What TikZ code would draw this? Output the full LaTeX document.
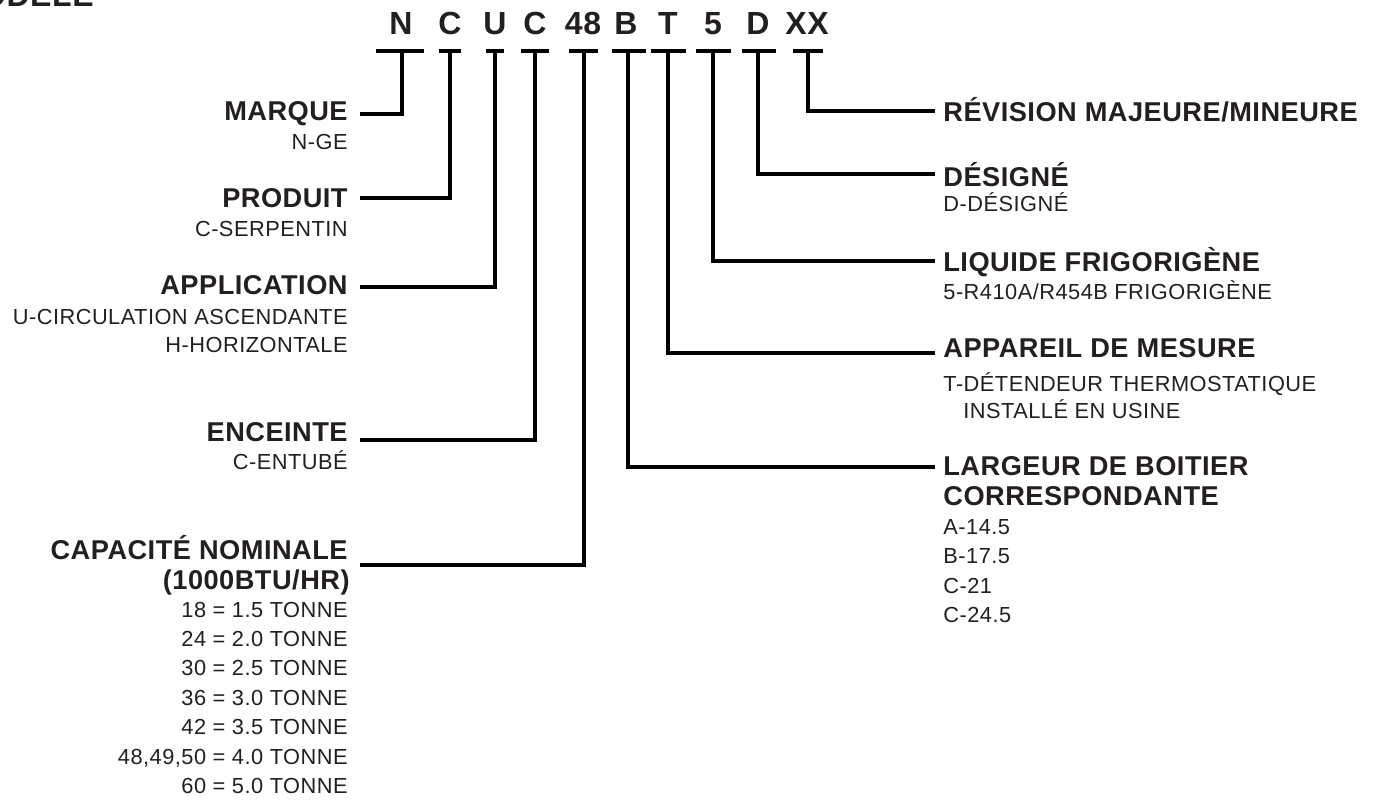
\documentclass[tikz,border=0pt]{standalone}
\usepackage{fontspec}
\setmainfont{Liberation Sans}[LetterSpace=1.8]
\newfontfamily\subfont{Liberation Sans}[LetterSpace=2.2]
\usetikzlibrary{positioning}
\definecolor{encre}{HTML}{231F20}

\tikzset{
  lien/.style={line width=1.6pt, black},
  code/.style={font=\fontsize{16}{18}\selectfont\bfseries, text=encre, anchor=base, inner sep=0},
  titreG/.style={font=\fontsize{13.6}{15}\selectfont\bfseries, text=encre, anchor=base east, inner sep=0},
  titreD/.style={font=\fontsize{13.6}{15}\selectfont\bfseries, text=encre, anchor=base west, inner sep=0},
  sousG/.style={font=\subfont\fontsize{10.9}{12}\selectfont, text=encre, anchor=base east, inner sep=0},
  sousD/.style={font=\subfont\fontsize{10.9}{12}\selectfont, text=encre, anchor=base west, inner sep=0}
}

\begin{document}
\begin{tikzpicture}[x=0.5pt,y=-0.5pt]
\useasboundingbox (0,0) rectangle (1382,801);

\node[code, anchor=base east] (modele) at (94,7) {MODÈLE};

% lettres du code
\node[code] (cN) at (401,35) {N};
\node[code] (cC) at (450,35) {C};
\node[code] (cU) at (495,35) {U};
\node[code] (cE) at (535,35) {C};
\node[code] (cCap) at (583,35) {48};
\node[code] (cB) at (626,35) {B};
\node[code] (cT) at (668,35) {T};
\node[code] (c5) at (713,35) {5};
\node[code] (cD) at (758,35) {D};
\node[code] (cX) at (807,35) {XX};

\coordinate (tN) at (402,51);
\coordinate (tC) at (450,51);
\coordinate (tU) at (495,51);
\coordinate (tE) at (535,51);
\coordinate (tCap) at (584,51);
\coordinate (tB) at (628,51);
\coordinate (tT) at (668,51);
\coordinate (t5) at (713,51);
\coordinate (tD) at (758,51);
\coordinate (tX) at (808,51);

\draw[lien] (tN) ++(-26,0) -- ++(48,0);
\draw[lien] (tC) ++(-11,0) -- ++(22,0);
\draw[lien] (tU) ++(-9,0) -- ++(18,0);
\draw[lien] (tE) ++(-14,0) -- ++(28,0);
\draw[lien] (tCap) ++(-15,0) -- ++(29,0);
\draw[lien] (tB) ++(-16,0) -- ++(34,0);
\draw[lien] (tT) ++(-17,0) -- ++(35,0);
\draw[lien] (t5) ++(-17,0) -- ++(35,0);
\draw[lien] (tD) ++(-16,0) -- ++(34,0);
\draw[lien] (tX) ++(-15,0) -- ++(30,0);

% bouts des traits
\coordinate (bMarque) at (360,114);
\coordinate (bProduit) at (360,198);
\coordinate (bAppli) at (360,287);
\coordinate (bEnceinte) at (360,440);
\coordinate (bCapa) at (360,565);
\coordinate (bRevision) at (935,111);
\coordinate (bDesigne) at (935,174);
\coordinate (bLiquide) at (935,261);
\coordinate (bAppareil) at (935,353);
\coordinate (bLargeur) at (935,467);

\draw[lien] (tN) |- (bMarque);
\draw[lien] (tC) |- (bProduit);
\draw[lien] (tU) |- (bAppli);
\draw[lien] (tE) |- (bEnceinte);
\draw[lien] (tCap) |- (bCapa);
\draw[lien] (tB) |- (bLargeur);
\draw[lien] (tT) |- (bAppareil);
\draw[lien] (t5) |- (bLiquide);
\draw[lien] (tD) |- (bDesigne);
\draw[lien] (tX) |- (bRevision);

% cote gauche
\node[titreG] (marque) at (348,121) {MARQUE};
\node[sousG] (marque1) at (348,150) {N-GE};

\node[titreG] (produit) at (348,208) {PRODUIT};
\node[sousG] (produit1) at (348,237) {C-SERPENTIN};

\node[titreG] (appli) at (348,295) {APPLICATION};
\node[sousG] (appli1) at (348,325) {U-CIRCULATION ASCENDANTE};
\node[sousG] (appli2) at (348,353) {H-HORIZONTALE};

\node[titreG] (enceinte) at (348,442) {ENCEINTE};
\node[sousG] (enceinte1) at (348,470) {C-ENTUBÉ};

\node[titreG] (capa) at (348,560) {CAPACITÉ NOMINALE};
\node[titreG] (capa0) at (350,590) {(1000BTU/HR)};
\node[sousG] (capa1) at (348,618) {18 = 1.5 TONNE};
\node[sousG] (capa2) at (348,647) {24 = 2.0 TONNE};
\node[sousG] (capa3) at (348,676) {30 = 2.5 TONNE};
\node[sousG] (capa4) at (348,705) {36 = 3.0 TONNE};
\node[sousG] (capa5) at (348,734) {42 = 3.5 TONNE};
\node[sousG] (capa6) at (348,764) {48,49,50 = 4.0 TONNE};
\node[sousG] (capa7) at (348,793) {60 = 5.0 TONNE};

% cote droit
\node[titreD] (revision) at (943,122) {RÉVISION MAJEURE/MINEURE};

\node[titreD] (designe) at (943,187) {DÉSIGNÉ};
\node[sousD] (designe1) at (943,212) {D-DÉSIGNÉ};

\node[titreD] (liquide) at (943,272) {LIQUIDE FRIGORIGÈNE};
\node[sousD] (liquide1) at (943,300) {5-R410A/R454B FRIGORIGÈNE};

\node[titreD] (appareil) at (943,358) {APPAREIL DE MESURE};
\node[sousD] (appareil1) at (943,392) {T-DÉTENDEUR THERMOSTATIQUE};
\node[sousD] (appareil2) at (963,419) {INSTALLÉ EN USINE};

\node[titreD] (largeur) at (943,476) {LARGEUR DE BOITIER};
\node[titreD] (largeur0) at (943,506) {CORRESPONDANTE};
\node[sousD] (largeur1) at (943,535) {A-14.5};
\node[sousD] (largeur2) at (943,564) {B-17.5};
\node[sousD] (largeur3) at (943,594) {C-21};
\node[sousD] (largeur4) at (943,623) {C-24.5};

\end{tikzpicture}
\end{document}
